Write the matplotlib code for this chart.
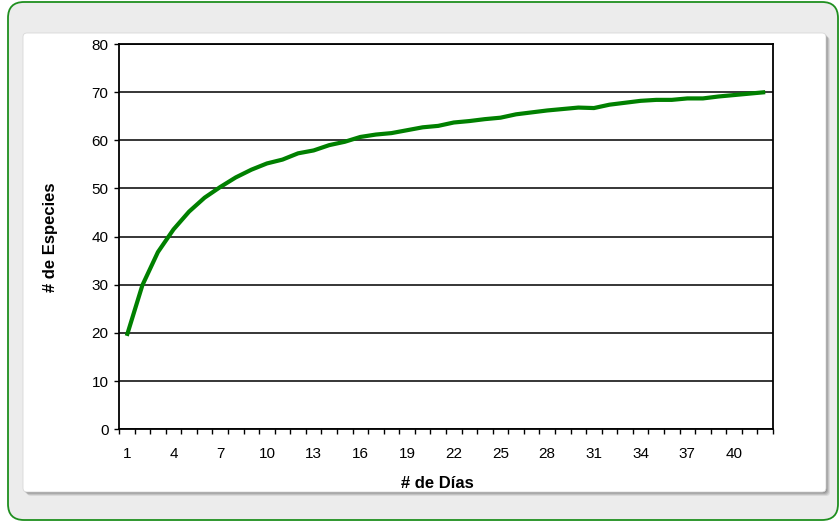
import numpy as np
import matplotlib.pyplot as plt
from matplotlib.patches import FancyBboxPatch

plt.rcParams['font.family'] = ['Liberation Sans', 'DejaVu Sans']

# data
dias = list(range(1, 43))
especies = [19.4, 29.9, 36.8, 41.5, 45.2, 48.1, 50.3, 52.3, 53.9, 55.2,
            56.0, 57.3, 57.9, 59.0, 59.7, 60.7, 61.2, 61.5, 62.1, 62.7,
            63.0, 63.7, 64.0, 64.4, 64.7, 65.4, 65.8, 66.2, 66.5, 66.8,
            66.7, 67.4, 67.8, 68.2, 68.4, 68.4, 68.7, 68.7, 69.1, 69.4,
            69.7, 70.0]
etiquetas = [1, 4, 7, 10, 13, 16, 19, 22, 25, 28, 31, 34, 37, 40]
yticks = list(range(0, 90, 10))

W, H = 840, 523
fig = plt.figure(figsize=(W / 100, H / 100), dpi=100)

# background: rounded green frame + white panel with shadow (pixel coords)
bg = fig.add_axes([0, 0, 1, 1], zorder=0)
bg.set_xlim(0, W)
bg.set_ylim(H, 0)
bg.axis('off')
bg.add_patch(FancyBboxPatch((8, 2), 830, 518, boxstyle='round,pad=0,rounding_size=16',
                            facecolor='#ececec', edgecolor='#1f8f1f', linewidth=1.3))
for i, a in enumerate([0.08, 0.10, 0.12, 0.15]):
    d = 4 - i
    bg.add_patch(FancyBboxPatch((23 + d, 33 + d), 803, 459, boxstyle='round,pad=0,rounding_size=4',
                                facecolor=(0, 0, 0, a), edgecolor='none'))
bg.add_patch(FancyBboxPatch((23, 33), 803, 459, boxstyle='round,pad=0,rounding_size=4',
                            facecolor='white', edgecolor='#d8d8d8', linewidth=0.6))

ax = fig.add_axes([119 / W, 1 - 429.3 / H, (773 - 119) / W, (429.3 - 44) / H], zorder=1)
ax.set_facecolor('white')
ax.plot(dias, especies, color='#008000', linewidth=3.0, solid_capstyle='butt', zorder=3)

ax.set_xlim(0.5, 42.5)
ax.set_ylim(0, 80)
ax.set_yticks(yticks)
ax.yaxis.grid(True, color='black', linewidth=1.1)
ax.set_axisbelow(True)

ax.set_xticks(np.arange(0.5, 43.0, 1.0))
ax.set_xticklabels([])
ax.set_xticks(etiquetas, minor=True)
ax.set_xticklabels([str(e) for e in etiquetas], minor=True)
ax.tick_params(axis='x', which='major', direction='out', length=3.5, width=1, color='black')
ax.tick_params(axis='x', which='minor', length=0, pad=13, labelsize=11)
ax.tick_params(axis='y', direction='out', length=3.5, width=1, pad=4, labelsize=11)

for s in ax.spines.values():
    s.set_color('black')
    s.set_linewidth(1.3)

fig.text(50 / W, 1 - 237 / H, '# de Especies', rotation=90, ha='center', va='center',
         fontsize=12, fontweight='bold')
fig.text(437 / W, 1 - 483 / H, '# de Días', ha='center', va='center',
         fontsize=12, fontweight='bold')

fig.savefig('out.png', dpi=100)
